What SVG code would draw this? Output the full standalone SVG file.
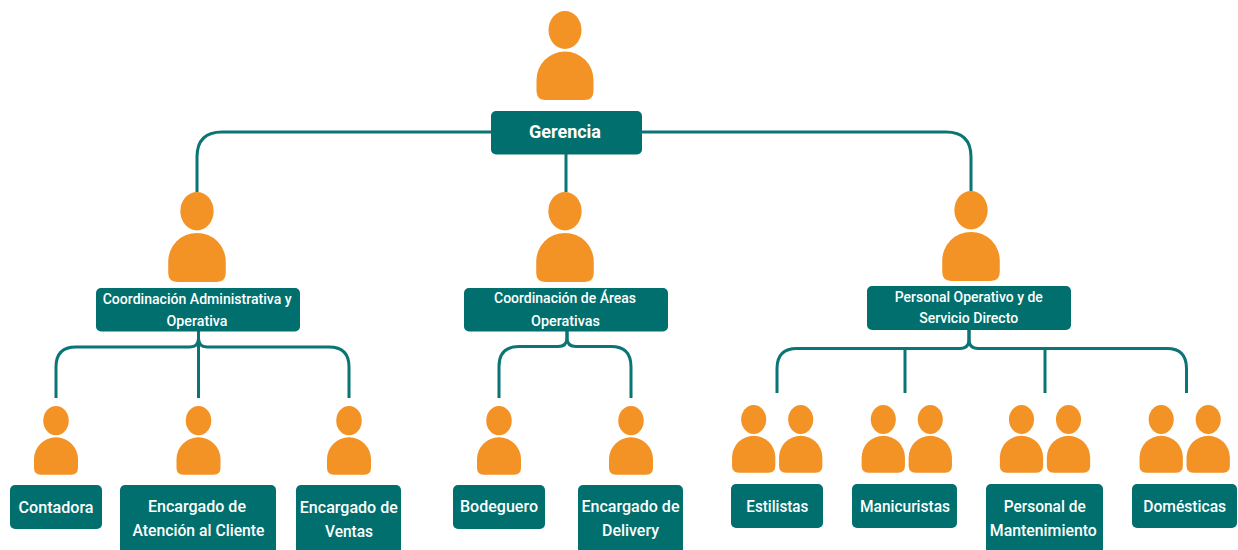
<svg xmlns="http://www.w3.org/2000/svg" width="1238" height="550" viewBox="0 0 1238 550">
<style>
.box{fill:#006f6e}
.p{fill:#f39325}
.c{fill:none;stroke:#0b7474;stroke-width:3}
text{font-family:Roboto,"Liberation Sans",sans-serif;font-weight:500;fill:#fff;text-anchor:middle;lengthAdjust:spacingAndGlyphs}
.s{font-size:14.2px}
.m{font-size:17px}
.g{font-size:18.5px;font-weight:700}
</style>
<defs>
<g id="person"><ellipse cx="0" cy="19" rx="16.5" ry="19"/><path d="M-28.500 80V69A28.500 28.500 0 0 1 28.500 69V80Q28.500 89 19.500 89H-19.500Q-28.500 89-28.500 80Z"/></g>
</defs>
<rect width="1238" height="550" fill="#fff"/>
<g id="connectors" class="c">
<path d="M491 132H222Q197 132 197 157V192"/>
<path d="M642 132H946Q971 132 971 157V191"/>
<path d="M566 154V192"/>
<path d="M198.500 331V398"/>
<path d="M198.500 331V338Q198.500 347 190 347H76Q56 347 56 367V398"/>
<path d="M198.500 331V338Q198.500 347 207 347H329Q349 347 349 367V398"/>
<path d="M567 331V338Q567 346.500 558 346.500H519Q499 346.500 499 366.500V398"/>
<path d="M567 331V338Q567 346.500 576 346.500H611Q631 346.500 631 366.500V398"/>
<path d="M969 330V339Q969 348.500 960 348.500H797Q777 348.500 777 368.500V393"/>
<path d="M969 330V339Q969 348.500 978 348.500H1167Q1186.500 348.500 1186.500 368.500V393"/>
<path d="M905 349V393"/>
<path d="M1045 349V393"/>
</g>
<g id="n-gerencia"><use href="#person" class="p" transform="translate(565 11)"/><rect class="box" x="491" y="111" width="151" height="43.500" rx="5"/><text class="g" x="565" y="138" textLength="72" lengthAdjust="spacingAndGlyphs">Gerencia</text></g>
<g id="n-coord-admin"><use href="#person" class="p" transform="translate(197 192) scale(1.01)"/><rect class="box" x="96" y="288" width="204" height="43.500" rx="5"/><text class="s" x="197.200" y="304" textLength="189" lengthAdjust="spacingAndGlyphs">Coordinación Administrativa y</text><text class="s" x="197" y="326" textLength="61" lengthAdjust="spacingAndGlyphs">Operativa</text></g>
<g id="n-coord-areas"><use href="#person" class="p" transform="translate(565 192) scale(1.01)"/><rect class="box" x="464" y="288" width="204" height="43.500" rx="5"/><text class="s" x="565" y="303" textLength="142" lengthAdjust="spacingAndGlyphs">Coordinación de Áreas</text><text class="s" x="565.500" y="326" textLength="69" lengthAdjust="spacingAndGlyphs">Operativas</text></g>
<g id="n-personal-op"><use href="#person" class="p" transform="translate(971 191) scale(1.01)"/><rect class="box" x="867" y="286" width="204" height="44" rx="5"/><text class="s" x="968.800" y="302" textLength="148" lengthAdjust="spacingAndGlyphs">Personal Operativo y de</text><text class="s" x="968.700" y="323" textLength="99" lengthAdjust="spacingAndGlyphs">Servicio Directo</text></g>
<g id="n-contadora"><use href="#person" class="p" transform="translate(56 406) scale(.772)"/><rect class="box" x="10" y="485" width="92" height="44" rx="5"/><text class="m" x="56" y="513" textLength="75" lengthAdjust="spacingAndGlyphs">Contadora</text></g>
<g id="n-atencion"><use href="#person" class="p" transform="translate(198.500 406) scale(.772)"/><rect class="box" x="120" y="485" width="156" height="70" rx="5"/><text class="m" x="197" y="512" textLength="98" lengthAdjust="spacingAndGlyphs">Encargado de</text><text class="m" x="198.500" y="536" textLength="132" lengthAdjust="spacingAndGlyphs">Atención al Cliente</text></g>
<g id="n-ventas"><use href="#person" class="p" transform="translate(349 406) scale(.772)"/><rect class="box" x="296" y="485" width="105" height="70" rx="5"/><text class="m" x="348.800" y="513" textLength="98" lengthAdjust="spacingAndGlyphs">Encargado de</text><text class="m" x="349" y="537" textLength="48" lengthAdjust="spacingAndGlyphs">Ventas</text></g>
<g id="n-bodeguero"><use href="#person" class="p" transform="translate(499 406) scale(.772)"/><rect class="box" x="453" y="485" width="92" height="44" rx="5"/><text class="m" x="499" y="512" textLength="78" lengthAdjust="spacingAndGlyphs">Bodeguero</text></g>
<g id="n-delivery"><use href="#person" class="p" transform="translate(631 406) scale(.772)"/><rect class="box" x="578" y="485" width="105" height="70" rx="5"/><text class="m" x="630.500" y="512" textLength="98" lengthAdjust="spacingAndGlyphs">Encargado de</text><text class="m" x="630.500" y="536" textLength="57" lengthAdjust="spacingAndGlyphs">Delivery</text></g>
<g id="n-estilistas"><use href="#person" class="p" transform="translate(753.700 405) scale(.76)"/><use href="#person" class="p" transform="translate(800.700 405) scale(.76)"/><rect class="box" x="731" y="484" width="92" height="44" rx="5"/><text class="m" x="777.300" y="512" textLength="62" lengthAdjust="spacingAndGlyphs">Estilistas</text></g>
<g id="n-manicuristas"><use href="#person" class="p" transform="translate(883.300 405) scale(.76)"/><use href="#person" class="p" transform="translate(930.300 405) scale(.76)"/><rect class="box" x="852" y="484" width="105" height="44" rx="5"/><text class="m" x="905" y="512" textLength="90" lengthAdjust="spacingAndGlyphs">Manicuristas</text></g>
<g id="n-mantenimiento"><use href="#person" class="p" transform="translate(1021.500 405) scale(.76)"/><use href="#person" class="p" transform="translate(1068.500 405) scale(.76)"/><rect class="box" x="986" y="484" width="117" height="70" rx="5"/><text class="m" x="1044.700" y="512" textLength="82" lengthAdjust="spacingAndGlyphs">Personal de</text><text class="m" x="1043.300" y="536" textLength="107" lengthAdjust="spacingAndGlyphs">Mantenimiento</text></g>
<g id="n-domesticas"><use href="#person" class="p" transform="translate(1161.200 405) scale(.76)"/><use href="#person" class="p" transform="translate(1208.200 405) scale(.76)"/><rect class="box" x="1132" y="484" width="105" height="44" rx="5"/><text class="m" x="1184.700" y="512" textLength="83" lengthAdjust="spacingAndGlyphs">Domésticas</text></g>
</svg>
